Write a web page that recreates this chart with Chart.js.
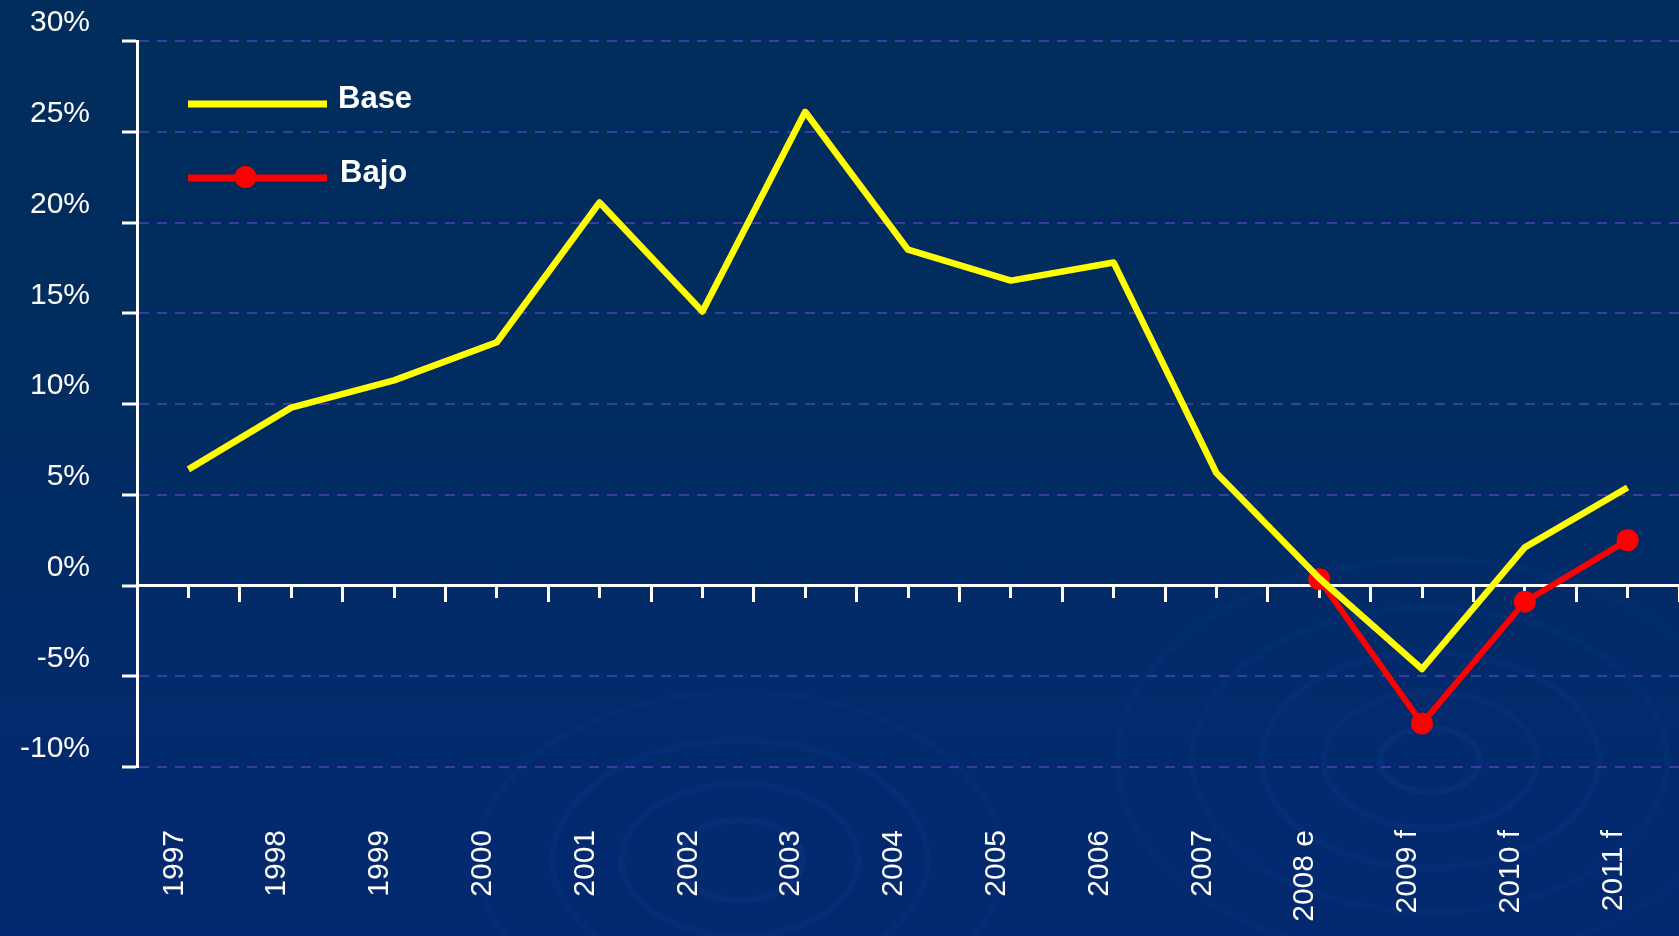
<!DOCTYPE html>
<html>
<head>
<meta charset="utf-8">
<script src="https://cdn.jsdelivr.net/npm/chart.js@4.4.1/dist/chart.umd.min.js"></script>
<style>
  html, body { margin: 0; padding: 0; }
  body {
    width: 1679px; height: 936px; overflow: hidden;
    background: linear-gradient(to bottom, #002d5b 0%, #012c60 45%, #022a6c 75%, #03286f 100%);
  }
  #chart { display: block; }
</style>
</head>
<body>
<!-- a bit wider than the window so the plot runs to the right edge -->
<canvas id="chart" width="1690" height="936"></canvas>
<script>
// categories + series
const years = ['1997', '1998', '1999', '2000', '2001', '2002', '2003', '2004', '2005', '2006', '2007', '2008 e', '2009 f', '2010 f', '2011 f'];
const baseValues = [6.4, 9.8, 11.3, 13.4, 21.1, 15.1, 26.1, 18.5, 16.8, 17.8, 6.2, 0.4, -4.6, 2.1, 5.4];
const bajoValues = [null, null, null, null, null, null, null, null, null, null, null, 0.35, -7.6, -0.9, 2.5];
const yTicks = [-10, -5, 0, 5, 10, 15, 20, 25, 30];

const FONT = '"Liberation Sans", Arial, sans-serif';
const GRID = '#3d39a3';

// faint ripple rings in the background (decoration only)
const ripples = {
  id: 'ripples',
  beforeDraw(chart) {
    const ctx = chart.ctx;
    ctx.save();
    ctx.lineWidth = 7;
    const rings = [[1430, 760, [40, 85, 135, 190, 250]], [740, 860, [50, 95, 150, 210]]];
    rings.forEach(([cx, cy, rs]) => {
      rs.forEach((r, i) => {
        ctx.strokeStyle = 'rgba(35, 75, 170, ' + (0.14 - i * 0.015) + ')';
        ctx.beginPath();
        ctx.ellipse(cx, cy, r * 1.25, r * 0.8, 0, 0, Math.PI * 2);
        ctx.stroke();
      });
    });
    ctx.restore();
  }
};

// legend drawn inside the plot, top left
const insideLegend = {
  id: 'insideLegend',
  afterDraw(chart) {
    const {ctx, chartArea} = chart;
    const x0 = chartArea.left + 51, x1 = chartArea.left + 190;
    const rows = [chart.data.datasets[0], chart.data.datasets[1]];
    ctx.save();
    ctx.font = 'bold 31px ' + FONT;
    ctx.textBaseline = 'alphabetic';
    rows.forEach((ds, i) => {
      const y = chartArea.top + 63 + i * 74;
      ctx.strokeStyle = ds.borderColor;
      ctx.lineWidth = 7;
      ctx.beginPath();
      ctx.moveTo(x0, y);
      ctx.lineTo(x1, y);
      ctx.stroke();
      if (ds.pointRadius > 0) {
        ctx.fillStyle = ds.pointBackgroundColor;
        ctx.beginPath();
        ctx.arc((x0 + x1) / 2 - 12, y - 1, 11, 0, Math.PI * 2);
        ctx.fill();
      }
      ctx.fillStyle = '#ffffff';
      ctx.fillText(ds.label, x1 + 11 + i * 2, y + 4);
    });
    ctx.restore();
  }
};

const noPad = s => { s.paddingLeft = 0; s.paddingRight = 0; s.paddingTop = 0; s.paddingBottom = 0; };

new Chart(document.getElementById('chart'), {
  type: 'line',
  data: {
    labels: years,
    datasets: [
      {
        label: 'Base',
        data: baseValues,
        borderColor: '#ffff00',
        borderWidth: 6.5,
        borderJoinStyle: 'round',
        pointRadius: 0,
        tension: 0,
        xAxisID: 'x'
      },
      {
        label: 'Bajo',
        data: bajoValues,
        borderColor: '#ff0000',
        borderWidth: 6,
        borderJoinStyle: 'round',
        pointRadius: 11,
        pointBackgroundColor: '#ff0000',
        pointBorderWidth: 0,
        tension: 0,
        xAxisID: 'x'
      }
    ]
  },
  options: {
    responsive: false,
    animation: false,
    layout: { padding: { top: 41, left: 0, right: 0, bottom: 0 } },
    plugins: { legend: { display: false }, tooltip: { enabled: false } },
    scales: {
      y: {
        min: -10,
        max: 30,
        afterFit(scale) { scale.width = 137; noPad(scale); },
        afterBuildTicks(scale) { scale.ticks = yTicks.map(v => ({ value: v })); },
        ticks: {
          color: '#ffffff',
          font: { family: FONT, size: 30 },
          padding: 32,
          labelOffset: -18,
          callback: v => v + '%'
        },
        grid: {
          color: GRID,
          lineWidth: 2,
          tickLength: 15,
          tickColor: '#ffffff',
          tickWidth: 3
        },
        border: { color: '#ffffff', width: 3, dash: [10, 8] }
      },
      // labels at the bottom
      x: {
        type: 'category',
        position: 'bottom',
        offset: true,
        afterFit(scale) { scale.height = 169; noPad(scale); },
        grid: { display: false, drawTicks: false },
        border: { display: false },
        ticks: {
          color: '#ffffff',
          font: { family: FONT, size: 30 },
          minRotation: 90,
          maxRotation: 90,
          autoSkip: false,
          padding: 63,
          labelOffset: -14
        }
      },
      // zero line with short ticks at each year
      xZero: {
        type: 'category',
        axis: 'x',
        position: { y: 0 },
        offset: true,
        afterFit: noPad,
        grid: { offset: false, drawOnChartArea: false, tickLength: 11, tickWidth: 3, tickColor: '#ffffff' },
        border: { color: '#ffffff', width: 3 },
        ticks: { display: false }
      },
      // longer ticks between years
      xZeroMid: {
        type: 'category',
        axis: 'x',
        position: { y: 0 },
        offset: true,
        afterFit: noPad,
        grid: { offset: true, drawOnChartArea: false, tickLength: 16, tickWidth: 3, tickColor: '#ffffff' },
        border: { display: false },
        ticks: { display: false }
      }
    }
  },
  plugins: [ripples, insideLegend]
});
</script>
</body>
</html>
